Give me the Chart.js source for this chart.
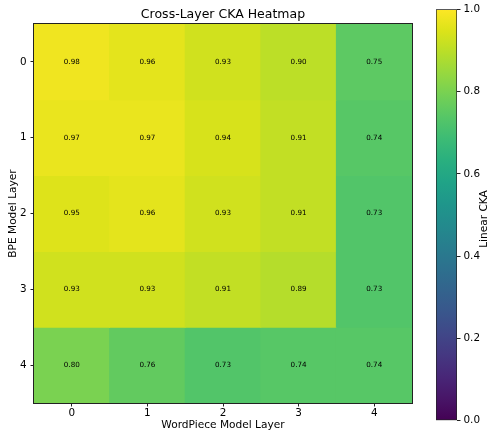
<!DOCTYPE html>
<html>
<head>
<meta charset="utf-8">
<script src="https://cdn.jsdelivr.net/npm/chart.js@4/dist/chart.umd.min.js"></script>
<style>
  html, body { margin: 0; padding: 0; background: #fff; }
  #wrap { position: relative; width: 490px; height: 433px; }
  canvas { position: absolute; left: 0; top: 0; }
</style>
</head>
<body>
<div id="wrap">
  <canvas id="heat" width="490" height="433"></canvas>
  <canvas id="cbar" width="490" height="433"></canvas>
</div>
<script>
// ---- data ----
const wordPieceLayers = ['0', '1', '2', '3', '4'];   // x categories
const bpeLayers = [0, 1, 2, 3, 4];                   // y rows / tick values
const bpeLayer0 = [0.98, 0.96, 0.93, 0.90, 0.75];
const bpeLayer1 = [0.97, 0.97, 0.94, 0.91, 0.74];
const bpeLayer2 = [0.95, 0.96, 0.93, 0.91, 0.73];
const bpeLayer3 = [0.93, 0.93, 0.91, 0.89, 0.73];
const bpeLayer4 = [0.80, 0.76, 0.73, 0.74, 0.74];
const colorbarTicks = [0.0, 0.2, 0.4, 0.6, 0.8, 1.0];
const colorMin = 0.0;
const colorMax = 1.0;

const rows = [bpeLayer0, bpeLayer1, bpeLayer2, bpeLayer3, bpeLayer4];

// ---- viridis colormap ----
const VIRIDIS = ['#440154','#481567','#482677','#453781','#404788','#39568C','#33638D',
  '#2D708E','#287D8E','#238A8D','#1F968B','#20A387','#29AF7F','#3CBB75','#55C667',
  '#73D055','#95D840','#B8DE29','#DCE319','#FDE725'];
function hexToRgb(h) { return [1,3,5].map(i => parseInt(h.substr(i, 2), 16)); }
const VIR_RGB = VIRIDIS.map(hexToRgb);
function viridis(v) {
  let t = (v - colorMin) / (colorMax - colorMin);
  t = Math.max(0, Math.min(1, t));
  const n = VIR_RGB.length - 1;
  const p = t * n;
  const i = Math.min(Math.floor(p), n - 1);
  const f = p - i;
  const a = VIR_RGB[i], b = VIR_RGB[i + 1];
  const c = a.map((x, k) => Math.round(x + (b[k] - x) * f));
  return 'rgb(' + c.join(',') + ')';
}

Chart.defaults.font.family = "'DejaVu Sans', sans-serif";
Chart.defaults.color = '#000';

const FRAME = '#222';

// ---- cell annotation + frame plugin ----
const cellLabels = {
  id: 'cellLabels',
  afterDatasetsDraw(chart) {
    const ctx = chart.ctx;
    ctx.save();
    ctx.font = "7.2px 'DejaVu Sans', sans-serif";
    ctx.fillStyle = '#000';
    ctx.textAlign = 'center';
    ctx.textBaseline = 'middle';
    chart.data.datasets.forEach((ds, di) => {
      const meta = chart.getDatasetMeta(di);
      meta.data.forEach((el, j) => {
        const cy = (el.y + el.base) / 2;
        ctx.fillText(rows[di][j].toFixed(2), el.x, cy);
      });
    });
    const a = chart.chartArea;
    ctx.strokeStyle = FRAME;
    ctx.lineWidth = 1;
    const l = Math.round(a.left) - 0.5, t = Math.round(a.top) - 0.5;
    const r = Math.round(a.right) + 0.5, b = Math.round(a.bottom) + 0.5;
    ctx.strokeRect(l, t, r - l, b - t);
    ctx.restore();
  }
};

const datasets = rows.map((vals, r) => ({
  label: 'BPE layer ' + bpeLayers[r],
  data: vals.map(() => [bpeLayers[r] - 0.5, bpeLayers[r] + 0.5]),
  backgroundColor: vals.map(viridis),
  borderWidth: 0,
  barPercentage: 1,
  categoryPercentage: 1,
  grouped: false,
  inflateAmount: 0.5
}));

new Chart(document.getElementById('heat'), {
  type: 'bar',
  data: { labels: wordPieceLayers, datasets },
  options: {
    responsive: false,
    devicePixelRatio: 1,
    animation: false,
    layout: { padding: { left: 0, right: 78, top: 0, bottom: 0 } },
    plugins: { legend: { display: false }, tooltip: { enabled: false }, title: { display: false } },
    scales: {
      x: {
        type: 'category',
        position: 'bottom',
        offset: true,
        grid: { display: true, drawOnChartArea: false, offset: false, tickLength: 3.5, tickColor: FRAME, tickWidth: 1 },
        border: { display: false },
        ticks: { font: { size: 10.4 }, padding: 1, maxRotation: 0, color: '#000' },
        title: { display: true, text: 'WordPiece Model Layer', font: { size: 10.6 }, padding: { top: 0, bottom: 1 }, color: '#000' },
        afterFit: s => { s.height = 30; }
      },
      xTop: {
        type: 'category',
        position: 'top',
        labels: wordPieceLayers,
        offset: true,
        grid: { display: false },
        border: { display: false },
        ticks: { display: false },
        title: { display: true, text: 'Cross-Layer CKA Heatmap', font: { size: 12.5 }, padding: { top: 7.5, bottom: 0 }, color: '#000' },
        afterFit: s => { s.height = 24; }
      },
      y: {
        type: 'linear',
        position: 'left',
        min: bpeLayers[0] - 0.5,
        max: bpeLayers[bpeLayers.length - 1] + 0.5,
        reverse: true,
        afterBuildTicks: s => { s.ticks = bpeLayers.map(v => ({ value: v })); },
        grid: { display: true, drawOnChartArea: false, tickLength: 3.5, tickColor: FRAME, tickWidth: 1 },
        border: { display: false },
        ticks: { font: { size: 10.4 }, padding: 4, color: '#000', callback: v => String(v) },
        title: { display: true, text: 'BPE Model Layer', font: { size: 10.6 }, padding: { top: 7, bottom: 0 }, color: '#000' },
        afterFit: s => { s.width = 34; }
      }
    }
  },
  plugins: [cellLabels]
});

// ---- colorbar ----
const cbTitle = {
  id: 'cbTitle',
  afterDraw(chart) {
    const ctx = chart.ctx;
    ctx.save();
    ctx.translate(484, 219);
    ctx.rotate(-Math.PI / 2);
    ctx.font = "10.6px 'DejaVu Sans', sans-serif";
    ctx.fillStyle = '#000';
    ctx.textAlign = 'center';
    ctx.textBaseline = 'middle';
    ctx.fillText('Linear CKA', 0, 0);
    ctx.restore();
  }
};

function cbGradient(context) {
  const chart = context.chart;
  const area = chart.chartArea;
  if (!area) return VIRIDIS[0];
  const ys = chart.scales.y;
  const g = chart.ctx.createLinearGradient(0, ys.getPixelForValue(colorMin), 0, ys.getPixelForValue(colorMax));
  VIRIDIS.forEach((c, i) => g.addColorStop(i / (VIRIDIS.length - 1), c));
  return g;
}

new Chart(document.getElementById('cbar'), {
  type: 'bar',
  data: {
    labels: ['Linear CKA'],
    datasets: [{
      data: [[colorMin, colorMax]],
      backgroundColor: cbGradient,
      borderColor: FRAME,
      borderWidth: 1,
      borderSkipped: false,
      barPercentage: 1,
      categoryPercentage: 1
    }]
  },
  options: {
    responsive: false,
    devicePixelRatio: 1,
    animation: false,
    layout: { padding: { left: 436, right: 0, top: 5.5, bottom: 12.3 } },
    plugins: { legend: { display: false }, tooltip: { enabled: false } },
    scales: {
      x: { display: false },
      y: {
        type: 'linear',
        position: 'right',
        min: colorMin,
        max: colorMax,
        afterBuildTicks: s => { s.ticks = colorbarTicks.map(v => ({ value: v })); },
        grid: { display: true, drawOnChartArea: false, tickLength: 3.5, tickColor: FRAME, tickWidth: 1 },
        border: { display: false },
        ticks: { font: { size: 10.4 }, padding: 3, color: '#000', callback: v => Number(v).toFixed(1) },
        afterFit: s => { s.width = 33; }
      }
    }
  },
  plugins: [cbTitle]
});
</script>
</body>
</html>
